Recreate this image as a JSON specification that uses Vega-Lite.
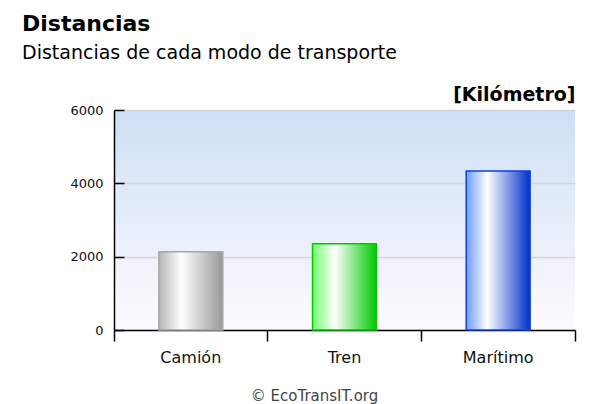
{
  "$schema": "https://vega.github.io/schema/vega-lite/v6.json",
  "autosize": "none",
  "width": 461,
  "height": 220,
  "padding": {"left": 114, "top": 110, "right": 23, "bottom": 74},
  "background": "white",
  "title": {
    "text": "Distancias",
    "subtitle": "Distancias de cada modo de transporte",
    "anchor": "start",
    "frame": "group",
    "dx": -92,
    "offset": 21,
    "font": "DejaVu Sans",
    "fontSize": 22,
    "fontWeight": "bold",
    "color": "#000000",
    "subtitleFont": "DejaVu Sans",
    "subtitleFontSize": 19,
    "subtitleColor": "#000000",
    "subtitlePadding": 8
  },
  "data": {
    "values": [
      {"modo": "Camión", "km": 2135},
      {"modo": "Tren", "km": 2354},
      {"modo": "Marítimo", "km": 4336}
    ]
  },
  "encoding": {
    "x": {
      "field": "modo",
      "type": "nominal",
      "sort": null,
      "scale": {"paddingInner": 0, "paddingOuter": 0},
      "axis": {
        "title": "© EcoTransIT.org",
        "titleFont": "DejaVu Sans",
        "titleFontSize": 15,
        "titleFontWeight": "normal",
        "titleColor": "#444444",
        "titleX": 200,
        "titleY": 65,
        "titleAlign": "center",
        "titleBaseline": "middle",
        "labelAngle": 0,
        "labelFont": "DejaVu Sans",
        "labelFontSize": 16,
        "labelColor": "#111111",
        "labelPadding": 8,
        "bandPosition": 1,
        "tickExtra": true,
        "tickSize": 11,
        "tickWidth": 1.5,
        "tickColor": "#000000",
        "domainColor": "#000000",
        "domainWidth": 1.5,
        "grid": false
      }
    }
  },
  "layer": [
    {
      "encoding": {
        "y": {
          "field": "km",
          "type": "quantitative",
          "scale": {"domain": [0, 6000], "nice": false},
          "axis": {
            "title": "[Kilómetro]",
            "titleAngle": 0,
            "titleAlign": "right",
            "titleBaseline": "bottom",
            "titleX": 461,
            "titleY": -6,
            "titleFont": "DejaVu Sans",
            "titleFontSize": 19,
            "titleFontWeight": "bold",
            "titleColor": "#000000",
            "values": [0, 2000, 4000, 6000],
            "format": "d",
            "labelFont": "DejaVu Sans",
            "labelFontSize": 13,
            "labelColor": "#111111",
            "labelPadding": 11,
            "ticks": false,
            "domainColor": "#000000",
            "domainWidth": 1.5,
            "grid": true,
            "gridColor": "#d6d6d6",
            "gridWidth": 1.5
          }
        }
      },
      "layer": [
        {
          "transform": [{"filter": "datum.modo === 'Camión'"}],
          "mark": {
            "type": "bar",
            "width": {"band": 0.416},
            "stroke": "#a6a6a6",
            "strokeWidth": 1.5,
            "color": {
              "gradient": "linear", "x1": 0, "y1": 0, "x2": 1, "y2": 0,
              "stops": [
                {"offset": 0, "color": "#b5b5b5"},
                {"offset": 0.35, "color": "#ffffff"},
                {"offset": 1, "color": "#999999"}
              ]
            }
          }
        },
        {
          "transform": [{"filter": "datum.modo === 'Tren'"}],
          "mark": {
            "type": "bar",
            "width": {"band": 0.416},
            "stroke": "#00c800",
            "strokeWidth": 1.5,
            "color": {
              "gradient": "linear", "x1": 0, "y1": 0, "x2": 1, "y2": 0,
              "stops": [
                {"offset": 0, "color": "#70ff70"},
                {"offset": 0.35, "color": "#ffffff"},
                {"offset": 1, "color": "#00c800"}
              ]
            }
          }
        },
        {
          "transform": [{"filter": "datum.modo === 'Marítimo'"}],
          "mark": {
            "type": "bar",
            "width": {"band": 0.416},
            "stroke": "#1040d8",
            "strokeWidth": 1.5,
            "color": {
              "gradient": "linear", "x1": 0, "y1": 0, "x2": 1, "y2": 0,
              "stops": [
                {"offset": 0, "color": "#6e9cff"},
                {"offset": 0.33, "color": "#ffffff"},
                {"offset": 1, "color": "#0030cc"}
              ]
            }
          }
        }
      ]
    },
    {
      "mark": {"type": "bar", "opacity": 0},
      "encoding": {
        "y": {
          "field": "km",
          "type": "quantitative",
          "scale": {"domain": [0, 6000], "nice": false},
          "axis": {
            "orient": "left",
            "offset": -10,
            "title": null,
            "values": [0, 2000, 4000, 6000],
            "labels": false,
            "domain": false,
            "grid": false,
            "ticks": true,
            "tickSize": 10,
            "tickWidth": 1.5,
            "tickColor": "#000000"
          }
        }
      }
    }
  ],
  "resolve": {"axis": {"y": "independent"}},
  "config": {
    "view": {
      "stroke": null,
      "fill": {
        "gradient": "linear", "x1": 0, "y1": 0, "x2": 0, "y2": 1,
        "stops": [
          {"offset": 0, "color": "#cddff4"},
          {"offset": 0.5, "color": "#e6edfa"},
          {"offset": 1, "color": "#fefbff"}
        ]
      }
    }
  }
}
